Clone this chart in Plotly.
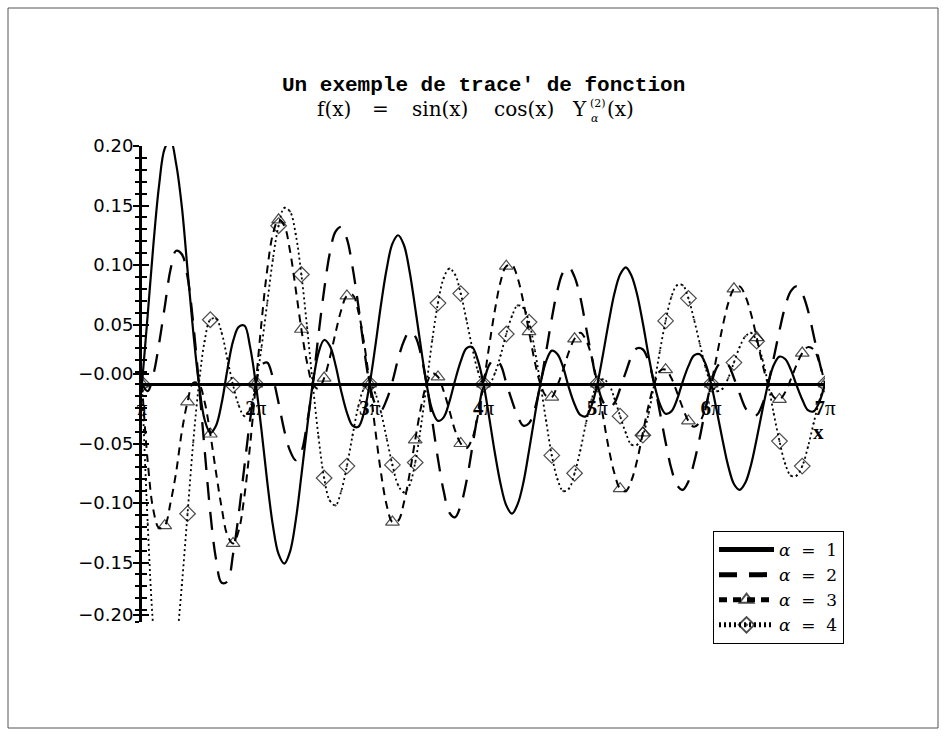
import plotly.graph_objects as go

# sample positions, in units of pi
X_PI = [1.00, 1.05, 1.10, 1.15, 1.20, 1.25, 1.30, 1.35, 1.40, 1.45,
        1.50, 1.55, 1.60, 1.65, 1.70, 1.75, 1.80, 1.85, 1.90, 1.95,
        2.00, 2.05, 2.10, 2.15, 2.20, 2.25, 2.30, 2.35, 2.40, 2.45,
        2.50, 2.55, 2.60, 2.65, 2.70, 2.75, 2.80, 2.85, 2.90, 2.95,
        3.00, 3.05, 3.10, 3.15, 3.20, 3.25, 3.30, 3.35, 3.40, 3.45,
        3.50, 3.55, 3.60, 3.65, 3.70, 3.75, 3.80, 3.85, 3.90, 3.95,
        4.00, 4.05, 4.10, 4.15, 4.20, 4.25, 4.30, 4.35, 4.40, 4.45,
        4.50, 4.55, 4.60, 4.65, 4.70, 4.75, 4.80, 4.85, 4.90, 4.95,
        5.00, 5.05, 5.10, 5.15, 5.20, 5.25, 5.30, 5.35, 5.40, 5.45,
        5.50, 5.55, 5.60, 5.65, 5.70, 5.75, 5.80, 5.85, 5.90, 5.95,
        6.00, 6.05, 6.10, 6.15, 6.20, 6.25, 6.30, 6.35, 6.40, 6.45,
        6.50, 6.55, 6.60, 6.65, 6.70, 6.75, 6.80, 6.85, 6.90, 6.95,
        7.00]

ALPHA1 = [0.000, 0.058, 0.117, 0.167, 0.198, 0.205, 0.185, 0.149, 0.096, 0.044,
          0.000, -0.030, -0.041, -0.035, -0.016, 0.012, 0.036, 0.048, 0.049, 0.031,
          0.000, -0.039, -0.082, -0.119, -0.143, -0.151, -0.141, -0.115, -0.077, -0.037,
          0.000, 0.026, 0.037, 0.032, 0.016, -0.006, -0.024, -0.035, -0.036, -0.024,
          0.000, 0.032, 0.067, 0.097, 0.118, 0.125, 0.117, 0.095, 0.064, 0.031,
          0.000, -0.022, -0.031, -0.028, -0.015, 0.003, 0.019, 0.030, 0.031, 0.020,
          0.000, -0.028, -0.058, -0.084, -0.102, -0.109, -0.101, -0.083, -0.056, -0.027,
          0.000, 0.019, 0.028, 0.025, 0.014, -0.003, -0.017, -0.026, -0.027, -0.018,
          0.000, 0.025, 0.052, 0.076, 0.092, 0.098, 0.091, 0.075, 0.051, 0.024,
          0.000, -0.017, -0.025, -0.023, -0.013, 0.002, 0.015, 0.024, 0.025, 0.017,
          0.000, -0.023, -0.047, -0.069, -0.084, -0.089, -0.083, -0.068, -0.046, -0.022,
          0.000, 0.016, 0.023, 0.021, 0.012, -0.001, -0.013, -0.022, -0.023, -0.015,
          0.000]

ALPHA2 = [0.000, -0.006, 0.008, 0.034, 0.065, 0.096, 0.112, 0.109, 0.090, 0.051,
          0.000, -0.055, -0.108, -0.147, -0.167, -0.166, -0.143, -0.109, -0.069, -0.030,
          0.000, 0.016, 0.018, 0.005, -0.016, -0.039, -0.056, -0.064, -0.057, -0.033,
          0.000, 0.041, 0.079, 0.110, 0.128, 0.132, 0.122, 0.098, 0.066, 0.030,
          0.000, -0.017, -0.022, -0.013, 0.002, 0.021, 0.036, 0.044, 0.040, 0.025,
          0.000, -0.031, -0.063, -0.090, -0.108, -0.112, -0.102, -0.082, -0.054, -0.025,
          0.000, 0.016, 0.021, 0.016, 0.001, -0.014, -0.027, -0.035, -0.033, -0.021,
          0.000, 0.027, 0.055, 0.079, 0.094, 0.098, 0.090, 0.073, 0.048, 0.023,
          0.000, -0.015, -0.020, -0.016, -0.004, 0.010, 0.023, 0.030, 0.029, 0.019,
          0.000, -0.024, -0.049, -0.071, -0.085, -0.089, -0.082, -0.066, -0.045, -0.021,
          0.000, 0.014, 0.019, 0.016, 0.005, -0.008, -0.020, -0.026, -0.026, -0.017,
          0.000, 0.022, 0.045, 0.065, 0.078, 0.082, 0.076, 0.062, 0.041, 0.019,
          0.000]

ALPHA3 = [0.000, -0.065, -0.106, -0.121, -0.119, -0.100, -0.074, -0.040, -0.015, 0.001,
          0.000, -0.015, -0.042, -0.074, -0.104, -0.127, -0.134, -0.123, -0.094, -0.051,
          0.000, 0.052, 0.096, 0.126, 0.138, 0.133, 0.112, 0.080, 0.046, 0.018,
          0.000, -0.004, 0.005, 0.022, 0.043, 0.062, 0.074, 0.075, 0.061, 0.035,
          0.000, -0.039, -0.075, -0.102, -0.116, -0.115, -0.100, -0.076, -0.047, -0.020,
          0.000, 0.009, 0.006, -0.006, -0.022, -0.039, -0.050, -0.054, -0.046, -0.027,
          0.000, 0.032, 0.062, 0.086, 0.099, 0.100, 0.089, 0.069, 0.044, 0.019,
          0.000, -0.010, -0.011, -0.001, 0.012, 0.027, 0.038, 0.043, 0.037, 0.023,
          0.000, -0.027, -0.054, -0.075, -0.088, -0.090, -0.081, -0.064, -0.041, -0.018,
          0.000, 0.011, 0.012, 0.005, -0.007, -0.020, -0.031, -0.036, -0.032, -0.020,
          0.000, 0.024, 0.048, 0.068, 0.080, 0.082, 0.074, 0.059, 0.039, 0.017,
          0.000, -0.011, -0.013, -0.007, 0.004, 0.016, 0.026, 0.031, 0.029, 0.018,
          0.000]

ALPHA4 = [0.000, -0.117, -0.206, -0.251, -0.266, -0.255, -0.221, -0.169, -0.109, -0.049,
          0.000, 0.036, 0.054, 0.055, 0.043, 0.021, -0.001, -0.018, -0.027, -0.020,
          0.000, 0.031, 0.068, 0.105, 0.133, 0.148, 0.145, 0.126, 0.092, 0.048,
          0.000, -0.044, -0.079, -0.098, -0.102, -0.090, -0.069, -0.043, -0.019, -0.004,
          0.000, -0.008, -0.024, -0.046, -0.068, -0.085, -0.091, -0.085, -0.066, -0.036,
          0.000, 0.037, 0.068, 0.089, 0.097, 0.092, 0.076, 0.054, 0.031, 0.011,
          0.000, 0.000, 0.009, 0.024, 0.042, 0.057, 0.066, 0.064, 0.052, 0.029,
          0.000, -0.031, -0.060, -0.080, -0.090, -0.088, -0.075, -0.056, -0.033, -0.013,
          0.000, 0.004, 0.000, -0.012, -0.027, -0.041, -0.051, -0.051, -0.043, -0.025,
          0.000, 0.028, 0.053, 0.073, 0.083, 0.083, 0.072, 0.054, 0.034, 0.014,
          0.000, -0.006, -0.004, 0.005, 0.018, 0.031, 0.040, 0.043, 0.036, 0.021,
          0.000, -0.025, -0.048, -0.067, -0.077, -0.077, -0.069, -0.053, -0.033, -0.014,
          0.000]

X_TICKS = [1, 2, 3, 4, 5, 6, 7]
X_TICKTEXT = ["π", "<b>2</b>π", "<b>3</b>π", "<b>4</b>π", "<b>5</b>π", "<b>6</b>π", "<b>7</b>π"]
Y_TICKS = [0.20, 0.15, 0.10, 0.05, 0.0085, -0.05, -0.10, -0.15, -0.194]
Y_TICKTEXT = ["0.20", "0.15", "0.10", "0.05", "\u22120.00", "\u22120.05", "\u22120.10", "\u22120.15", "\u22120.20"]
Y_MINOR = [round(-0.2 + 0.01 * i, 2) for i in range(41)]

NB = "\u00a0"
LABELS = ["<i>α</i>" + NB * 2 + "=" + NB * 2 + str(k) for k in (1, 2, 3, 4)]

W, H = 946, 736
L, R, T, B = 142, 121, 146, 114
PW, PH = W - L - R, H - T - B


def px(x):
    return (x - L) / PW


def py(y):
    return (H - B - y) / PH


# marker every 4th sample (0.2 pi)
msize = [12 if i % 4 == 0 else 0 for i in range(len(X_PI))]

fig = go.Figure()
# alpha = 1 lives on the overlaid y axis (same range) so that its inner ticks get drawn
fig.add_trace(go.Scatter(x=X_PI, y=ALPHA1, mode="lines", name=LABELS[0], yaxis="y2",
                         line=dict(color="black", width=2.2, shape="spline")))
fig.add_trace(go.Scatter(x=X_PI, y=ALPHA2, mode="lines", name=LABELS[1],
                         line=dict(color="black", width=2.3, dash="18px,12px", shape="spline")))
fig.add_trace(go.Scatter(x=X_PI, y=ALPHA3, mode="lines+markers", name=LABELS[2],
                         line=dict(color="black", width=2.0, dash="8px,6px", shape="spline"),
                         marker=dict(symbol="triangle-up-open", size=msize, color="black",
                                     line=dict(width=1.2, color="black"))))
fig.add_trace(go.Scatter(x=X_PI, y=ALPHA4, mode="lines+markers", name=LABELS[3],
                         line=dict(color="black", width=1.8, dash="2px,3px", shape="spline"),
                         marker=dict(symbol="diamond-open-dot", size=msize, color="black",
                                     line=dict(width=1.2, color="black"))))

tick_font = dict(family="DejaVu Sans", size=18, color="black")

fig.update_layout(
    width=W, height=H, autosize=False,
    margin=dict(l=L, r=R, t=T, b=B, pad=0),
    paper_bgcolor="white", plot_bgcolor="white",
    showlegend=True,
    legend=dict(x=px(713), y=py(531), xanchor="left", yanchor="top",
                bgcolor="white", bordercolor="black", borderwidth=1,
                font=dict(family="DejaVu Serif", size=17, color="black"),
                itemsizing="constant", itemwidth=55, tracegroupgap=0,
                traceorder="normal"),
    xaxis=dict(range=[1, 7], anchor="free", position=0.5,
               tickvals=X_TICKS, ticktext=X_TICKTEXT,
               ticks="outside", ticklen=5, tickcolor="rgba(0,0,0,0)",
               showline=False, showgrid=False, zeroline=False,
               tickfont=dict(family="Liberation Serif", size=21, color="black")),
    yaxis=dict(range=[-0.2, 0.2], tickvals=Y_TICKS, ticktext=Y_TICKTEXT,
               ticks="outside", ticklen=6, tickwidth=2, tickcolor="black",
               ticklabelstandoff=-4,
               showline=True, linewidth=3, linecolor="black", showgrid=False,
               zeroline=True, zerolinewidth=3, zerolinecolor="black",
               tickfont=tick_font,
               minor=dict(tickvals=Y_MINOR, ticks="outside", ticklen=4,
                          tickwidth=1.5, tickcolor="black", showgrid=False)),
    yaxis2=dict(range=[-0.2, 0.2], overlaying="y", side="left", anchor="x",
                tickvals=Y_TICKS, ticks="inside", ticklen=7, tickwidth=2, tickcolor="black",
                showticklabels=False, showline=False, showgrid=False, zeroline=False,
                minor=dict(tickvals=Y_MINOR, ticks="inside", ticklen=5,
                           tickwidth=1.5, tickcolor="black", showgrid=False)),
)

# outer frame
fig.add_shape(type="rect", xref="paper", yref="paper",
              x0=px(8), x1=px(938), y0=py(728), y1=py(8),
              line=dict(color="#555555", width=1), layer="below")

serif2 = dict(family="DejaVu Serif", size=20, color="black")
small = dict(family="DejaVu Serif", size=11, color="black")
ann = [
    dict(text="<b>Un exemple de trace' de fonction</b>", x=px(483.5), y=py(85),
         xanchor="center", yanchor="middle",
         font=dict(family="Liberation Mono", size=21, color="black")),
    dict(text="f(x)", x=px(334), y=py(109), xanchor="center", yanchor="middle", font=serif2),
    dict(text="=", x=px(380), y=py(109), xanchor="center", yanchor="middle", font=serif2),
    dict(text="sin(x)", x=px(440), y=py(109), xanchor="center", yanchor="middle", font=serif2),
    dict(text="cos(x)", x=px(524), y=py(109), xanchor="center", yanchor="middle", font=serif2),
    dict(text="Y", x=px(588), y=py(109), xanchor="right", yanchor="middle", font=serif2),
    dict(text="(2)", x=px(589), y=py(103), xanchor="left", yanchor="middle", font=small),
    dict(text="<i>α</i>", x=px(590), y=py(118), xanchor="left", yanchor="middle", font=small),
    dict(text="(x)", x=px(606), y=py(109), xanchor="left", yanchor="middle", font=serif2),
    dict(text="<b>x</b>", x=px(818), y=py(432), xanchor="center", yanchor="middle",
         font=dict(family="Liberation Serif", size=21, color="black")),
]
for a in ann:
    a.update(xref="paper", yref="paper", showarrow=False, borderpad=0)
fig.update_layout(annotations=ann)

fig.write_html("out.html")
